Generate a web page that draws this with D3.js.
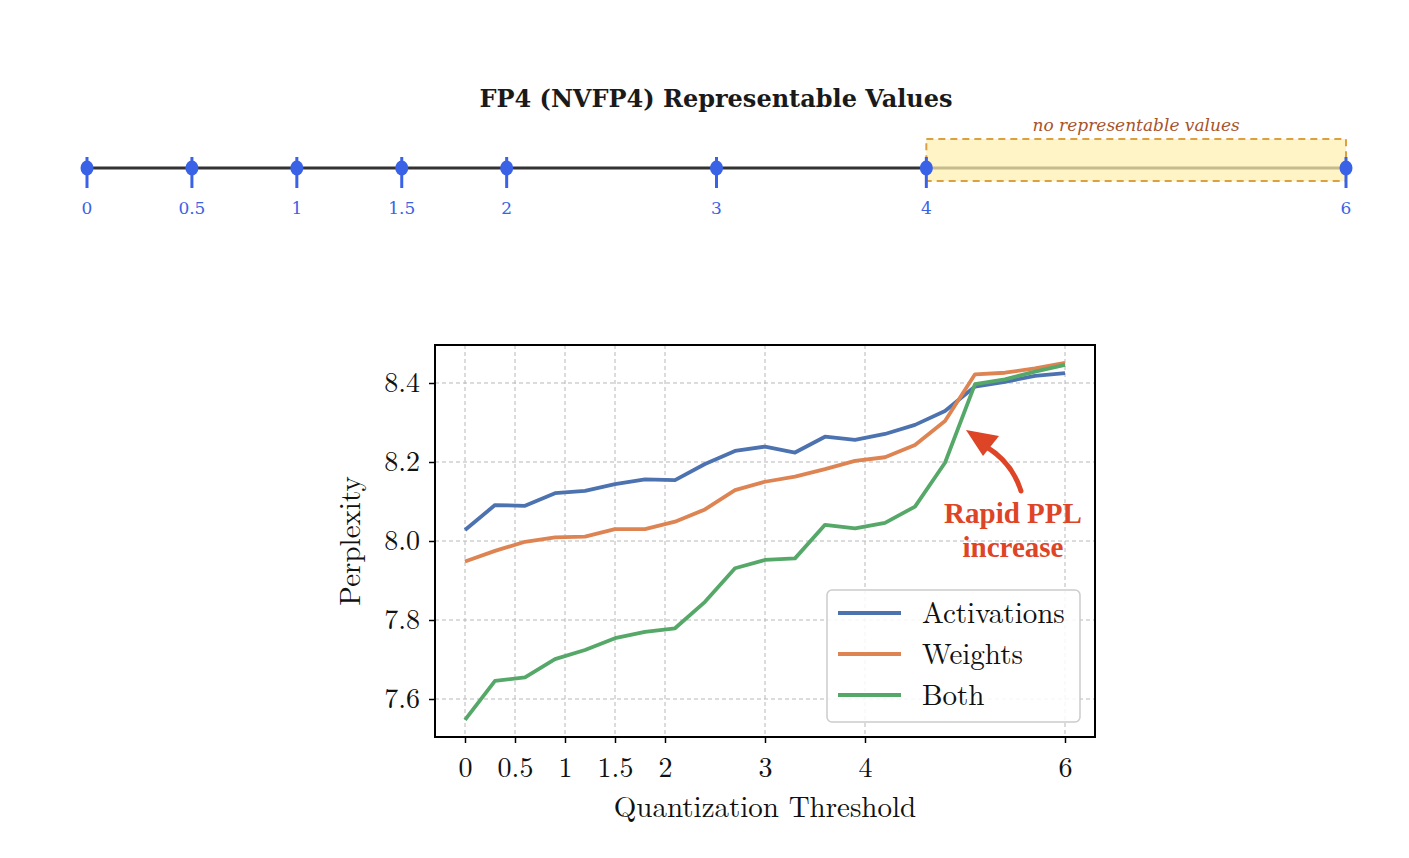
<!DOCTYPE html>
<html><head><meta charset="utf-8">
<script src="https://cdn.jsdelivr.net/npm/d3@7"></script>
<style>body{margin:0;background:#fff}svg{display:block}</style>
</head><body>
<svg id="c" width="1409" height="858"></svg>
<script>
// ---- data ----
const fp4Values = [0, 0.5, 1, 1.5, 2, 3, 4, 6];
const fp4Labels = ["0", "0.5", "1", "1.5", "2", "3", "4", "6"];
const thresholds = [0, 0.3, 0.6, 0.9, 1.2, 1.5, 1.8, 2.1, 2.4, 2.7, 3.0, 3.3, 3.6, 3.9, 4.2, 4.5, 4.8, 5.1, 5.4, 5.7, 6.0];
const activations = [8.028, 8.091, 8.089, 8.121, 8.127, 8.144, 8.156, 8.154, 8.195, 8.228, 8.239, 8.224, 8.264, 8.256, 8.271, 8.294, 8.329, 8.391, 8.403, 8.418, 8.425];
const weights = [7.948, 7.975, 7.998, 8.009, 8.011, 8.030, 8.030, 8.049, 8.080, 8.129, 8.150, 8.163, 8.182, 8.203, 8.212, 8.243, 8.304, 8.422, 8.426, 8.437, 8.451];
const both = [7.547, 7.646, 7.655, 7.701, 7.724, 7.754, 7.770, 7.779, 7.846, 7.931, 7.952, 7.956, 8.041, 8.032, 8.046, 8.087, 8.198, 8.397, 8.409, 8.429, 8.446];
const seriesNames = ["Activations", "Weights", "Both"];
const xTicks = [0, 0.5, 1, 1.5, 2, 3, 4, 6];
const xTickLabels = ["0", "0.5", "1", "1.5", "2", "3", "4", "6"];
const yTicks = [7.6, 7.8, 8.0, 8.2, 8.4];

const svg = d3.select("#c");
const serifTop = "'DejaVu Serif', Georgia, serif";
const serif = "'Latin Modern Roman','CMU Serif','Liberation Serif', serif";

// ---- top number line ----
const nl = d3.scaleLinear().domain([0, 6]).range([87, 1346]);
const lineY = 168;
const blue = "#3a62e6";
svg.append("text").attr("x", 716).attr("y", 107).attr("text-anchor", "middle")
  .attr("font-family", serifTop).attr("font-weight", "bold").attr("font-size", 24)
  .attr("fill", "#1a1a1a").text("FP4 (NVFP4) Representable Values");
svg.append("line").attr("x1", nl(0)).attr("x2", nl(6)).attr("y1", lineY).attr("y2", lineY)
  .attr("stroke", "#333").attr("stroke-width", 3);
svg.append("rect").attr("x", nl(4)).attr("y", 139).attr("width", nl(6) - nl(4)).attr("height", 42)
  .attr("fill", "#fdf0b0").attr("fill-opacity", 0.72)
  .attr("stroke", "#dca040").attr("stroke-width", 2).attr("stroke-dasharray", "7,5");
svg.append("text").attr("x", (nl(4) + nl(6)) / 2).attr("y", 131).attr("text-anchor", "middle")
  .attr("font-family", serifTop).attr("font-style", "italic").attr("font-size", 17)
  .attr("fill", "#a8532a").text("no representable values");
const mk = svg.append("g").selectAll("g").data(fp4Values).join("g")
  .attr("transform", d => `translate(${nl(d)},0)`);
mk.append("line").attr("y1", 157).attr("y2", 188).attr("stroke", blue).attr("stroke-width", 3);
mk.append("ellipse").attr("cy", lineY).attr("rx", 6.5).attr("ry", 7.5).attr("fill", blue);
mk.append("text").data(fp4Labels).attr("y", 214).attr("text-anchor", "middle")
  .attr("font-family", serifTop).attr("font-size", 17).attr("fill", blue).text(d => d);

// ---- lower plot ----
const L = 435, R = 1095, T = 345, B = 737;
const x = d3.scaleLinear().domain([-0.3, 6.3]).range([L, R]);
const y = d3.scaleLinear().domain([7.5038, 8.4962]).range([B, T]);

const grid = svg.append("g").attr("stroke", "#b8b8b8").attr("stroke-width", 1).attr("stroke-dasharray", "4,3");
grid.selectAll(".gx").data(xTicks).join("line").attr("x1", d => x(d)).attr("x2", d => x(d)).attr("y1", T).attr("y2", B);
grid.selectAll(".gy").data(yTicks).join("line").attr("y1", d => y(d)).attr("y2", d => y(d)).attr("x1", L).attr("x2", R);

const colors = ["#4c72b0", "#dd8452", "#55a868"];
const allSeries = [activations, weights, both];
const line = d3.line().x((d, i) => x(thresholds[i])).y(d => y(d));
svg.append("g").selectAll("path").data(allSeries).join("path")
  .attr("d", d => line(d)).attr("fill", "none")
  .attr("stroke", (d, i) => colors[i]).attr("stroke-width", 3.8).attr("stroke-linejoin", "round");

// frame
svg.append("rect").attr("x", L).attr("y", T).attr("width", R - L).attr("height", B - T)
  .attr("fill", "none").attr("stroke", "#000").attr("stroke-width", 2);

// axes
const xa = svg.append("g").attr("transform", `translate(0,${B})`)
  .call(d3.axisBottom(x).tickValues(xTicks).tickFormat((d, i) => xTickLabels[i]).tickSize(6).tickPadding(11));
const ya = svg.append("g").attr("transform", `translate(${L},0)`)
  .call(d3.axisLeft(y).tickValues(yTicks).tickFormat(d3.format(".1f")).tickSize(6).tickPadding(9));
[xa, ya].forEach(a => {
  a.select(".domain").remove();
  a.selectAll("line").attr("stroke", "#000").attr("stroke-width", 1.5);
  a.selectAll("text").attr("font-family", serif).attr("font-size", 28).attr("fill", "#111");
});
xa.selectAll("text").attr("dy", "0.82em");

svg.append("text").attr("x", 765).attr("y", 817).attr("text-anchor", "middle")
  .attr("font-family", serif).attr("font-size", 29).attr("fill", "#111").text("Quantization Threshold");
svg.append("text").attr("transform", "translate(360,541) rotate(-90)").attr("text-anchor", "middle")
  .attr("font-family", serif).attr("font-size", 29).attr("fill", "#111").text("Perplexity");

// annotation
const red = "#de4426";
svg.append("text").attr("x", 1013).attr("y", 523).attr("text-anchor", "middle")
  .attr("font-family", "'Liberation Serif', serif").attr("font-weight", "bold").attr("font-size", 29)
  .attr("fill", red).text("Rapid PPL");
svg.append("text").attr("x", 1013).attr("y", 557).attr("text-anchor", "middle")
  .attr("font-family", "'Liberation Serif', serif").attr("font-weight", "bold").attr("font-size", 29)
  .attr("fill", red).text("increase");
svg.append("path").attr("d", "M1021,491 Q1012,462 985,446").attr("fill", "none")
  .attr("stroke", red).attr("stroke-width", 5).attr("stroke-linecap", "round");
svg.append("path").attr("d", "M966,430 L999,436 L983,456 Z").attr("fill", red);

// legend
const lg = svg.append("g");
lg.append("rect").attr("x", 827).attr("y", 590).attr("width", 253).attr("height", 132).attr("rx", 5)
  .attr("fill", "#fff").attr("fill-opacity", 0.85).attr("stroke", "#cccccc").attr("stroke-width", 1.5);
const li = lg.selectAll("g").data(seriesNames).join("g").attr("transform", (d, i) => `translate(0,${613 + i * 41})`);
li.append("line").attr("x1", 838).attr("x2", 901).attr("stroke", (d, i) => colors[i]).attr("stroke-width", 3.8);
li.append("text").attr("x", 922).attr("y", 10).attr("font-family", serif).attr("font-size", 29)
  .attr("fill", "#111").text(d => d);
</script>
</body></html>
